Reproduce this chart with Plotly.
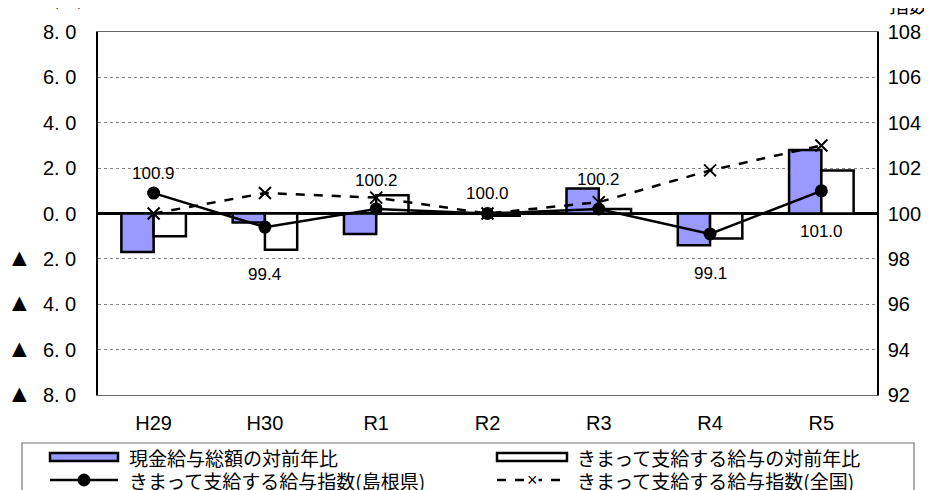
import plotly.graph_objects as go

# ---------------- data ----------------
categories = ["H29", "H30", "R1", "R2", "R3", "R4", "R5"]
cash_total_yoy = [-1.7, -0.4, -0.9, 0.0, 1.1, -1.4, 2.8]       # 現金給与総額の対前年比
scheduled_yoy = [-1.0, -1.6, 0.8, -0.1, 0.2, -1.1, 1.9]        # きまって支給する給与の対前年比
index_shimane = [100.9, 99.4, 100.2, 100.0, 100.2, 99.1, 101.0]
index_national = [100.0, 100.9, 100.7, 100.0, 100.5, 101.9, 103.0]

series_names = [
    "現金給与総額の対前年比",
    "きまって支給する給与の対前年比",
    "きまって支給する給与指数(島根県)",
    "きまって支給する給与指数(全国)",
]

TRI = "<span style='font-size:25px'>▲</span>\u00a0\u00a0"
left_tickvals = [8, 6, 4, 2, 0, -2, -4, -6, -8]
left_ticktext = ["8. 0", "6. 0", "4. 0", "2. 0", "0. 0",
                 TRI + "2. 0", TRI + "4. 0", TRI + "6. 0", TRI + "8. 0"]
right_tickvals = [92, 94, 96, 98, 100, 102, 104, 106, 108]

# label placement (pixel shift from point)
label_shift = [20, -47, 28, 20, 29, -40, -41]

# ---------------- styling ----------------
W, H = 932, 490
OFF = 8  # page body margin
# plot area in page pixels
P_L, P_R, P_T, P_B = 98, 877, 32, 395
ML, MT = P_L - OFF, P_T - OFF
MR = W - (P_R - OFF)
MB = H - (P_B - OFF)
PW, PH = W - ML - MR, H - MT - MB
BLUE = "#9999FF"
TICKF = "Liberation Sans, Arial, sans-serif"
JP = "Noto Sans CJK JP, sans-serif"
ARIAL = "Liberation Sans, Arial, sans-serif"


def px(xp):
    return (xp - P_L) / PW


def py(yp):
    return (P_B - yp) / PH


fig = go.Figure()
fig.add_trace(go.Bar(x=categories, y=cash_total_yoy, name=series_names[0],
                     marker=dict(color=BLUE, line=dict(color="black", width=2.5)),
                     yaxis="y", showlegend=False))
fig.add_trace(go.Bar(x=categories, y=scheduled_yoy, name=series_names[1],
                     marker=dict(color="white", line=dict(color="black", width=2.5)),
                     yaxis="y", showlegend=False))
fig.add_trace(go.Scatter(x=categories, y=index_national, name=series_names[3],
                         mode="lines+markers", yaxis="y2",
                         line=dict(color="black", width=2.5, dash="dash"),
                         marker=dict(symbol="x-thin-open", size=12,
                                     line=dict(color="black", width=2)),
                         showlegend=False))
fig.add_trace(go.Scatter(x=categories, y=index_shimane, name=series_names[2],
                         mode="lines+markers", yaxis="y2",
                         line=dict(color="black", width=2.5),
                         marker=dict(symbol="circle", size=13, color="black"),
                         showlegend=False))

annotations = []
for c, v, s in zip(categories, index_shimane, label_shift):
    annotations.append(dict(x=c, y=v, xref="x", yref="y2", text=f"{v:.1f}",
                            showarrow=False, yshift=s,
                            font=dict(family=ARIAL, size=17, color="black")))

annotations.append(dict(x=px(68), y=py(-4), xref="paper", yref="paper", text="(%)",
                        xanchor="center", yanchor="middle",
                        showarrow=False, font=dict(family=JP, size=20, color="black")))
annotations.append(dict(x=px(909), y=py(4), xref="paper", yref="paper", text="指数",
                        xanchor="center", yanchor="middle",
                        showarrow=False, font=dict(family=JP, size=20, color="black")))

shapes = []
# custom legend box
shapes.append(dict(type="rect", xref="paper", yref="paper",
                   x0=px(22), x1=px(914), y0=py(443), y1=py(510),
                   line=dict(color="#777777", width=1.2), fillcolor="white", layer="above"))
row_y = [457, 480]
col_x = [50, 497]
sym_w = 70
text_x = [127, 575]
# bar symbols
shapes.append(dict(type="rect", xref="paper", yref="paper",
                   x0=px(col_x[0]), x1=px(col_x[0] + sym_w - 2), y0=py(row_y[0] + 4), y1=py(row_y[0] - 4),
                   line=dict(color="black", width=2.5), fillcolor=BLUE, layer="above"))
shapes.append(dict(type="rect", xref="paper", yref="paper",
                   x0=px(col_x[1]), x1=px(col_x[1] + sym_w), y0=py(row_y[0] + 4), y1=py(row_y[0] - 4),
                   line=dict(color="black", width=2.5), fillcolor="white", layer="above"))
# line symbols
shapes.append(dict(type="line", xref="paper", yref="paper",
                   x0=px(col_x[0]), x1=px(col_x[0] + sym_w - 2), y0=py(row_y[1]), y1=py(row_y[1]),
                   line=dict(color="black", width=2.5), layer="above"))
cx = col_x[0] + (sym_w - 2) / 2
shapes.append(dict(type="circle", xref="paper", yref="paper",
                   x0=px(cx - 6), x1=px(cx + 6), y0=py(row_y[1] + 6), y1=py(row_y[1] - 6),
                   line=dict(color="black", width=1), fillcolor="black", layer="above"))
shapes.append(dict(type="line", xref="paper", yref="paper",
                   x0=px(col_x[1]), x1=px(col_x[1] + sym_w), y0=py(row_y[1]), y1=py(row_y[1]),
                   line=dict(color="black", width=2.5, dash="dash"), layer="above"))
legend_pos = [(text_x[0], row_y[0]), (text_x[1], row_y[0]), (text_x[0], row_y[1]), (text_x[1], row_y[1])]
for name, (tx, ty) in zip(series_names, legend_pos):
    annotations.append(dict(x=px(tx), y=py(ty), xref="paper", yref="paper", text=name,
                            xanchor="left", yanchor="middle", showarrow=False,
                            font=dict(family=JP, size=19, color="black")))
annotations.append(dict(x=px(col_x[1] + sym_w / 2), y=py(row_y[1]), xref="paper", yref="paper",
                        text="×", showarrow=False, bgcolor="white", borderpad=0,
                        xanchor="center", yanchor="middle",
                        font=dict(family=ARIAL, size=18, color="black")))

fig.update_layout(
    width=W, height=H,
    margin=dict(l=ML, r=MR, t=MT, b=MB, autoexpand=False),
    paper_bgcolor="white", plot_bgcolor="white",
    barmode="group", bargap=0.42, bargroupgap=0,
    showlegend=False,
    xaxis=dict(type="category", showgrid=False, showline=True, mirror=True,
               linecolor="#666666", linewidth=1,
               ticks="outside", ticklen=10, tickcolor="rgba(0,0,0,0)",
               tickfont=dict(family=TICKF, size=20, color="black")),
    yaxis=dict(range=[-8, 8], tickvals=left_tickvals, ticktext=left_ticktext,
               showgrid=True, gridcolor="#888888", griddash="dot", gridwidth=1,
               zeroline=True, zerolinecolor="black", zerolinewidth=3,
               showline=True, linecolor="black", linewidth=1.5, ticks="",
               ticklabelstandoff=16,
               tickfont=dict(family=TICKF, size=20, color="black")),
    yaxis2=dict(range=[92, 108], tickvals=right_tickvals, overlaying="y", side="right",
                showgrid=False, zeroline=False, showline=True, linecolor="black", linewidth=1.5,
                ticks="", ticklabelstandoff=5,
                tickfont=dict(family=TICKF, size=20, color="black")),
    annotations=annotations,
    shapes=shapes,
)

fig.write_html("out.html")
